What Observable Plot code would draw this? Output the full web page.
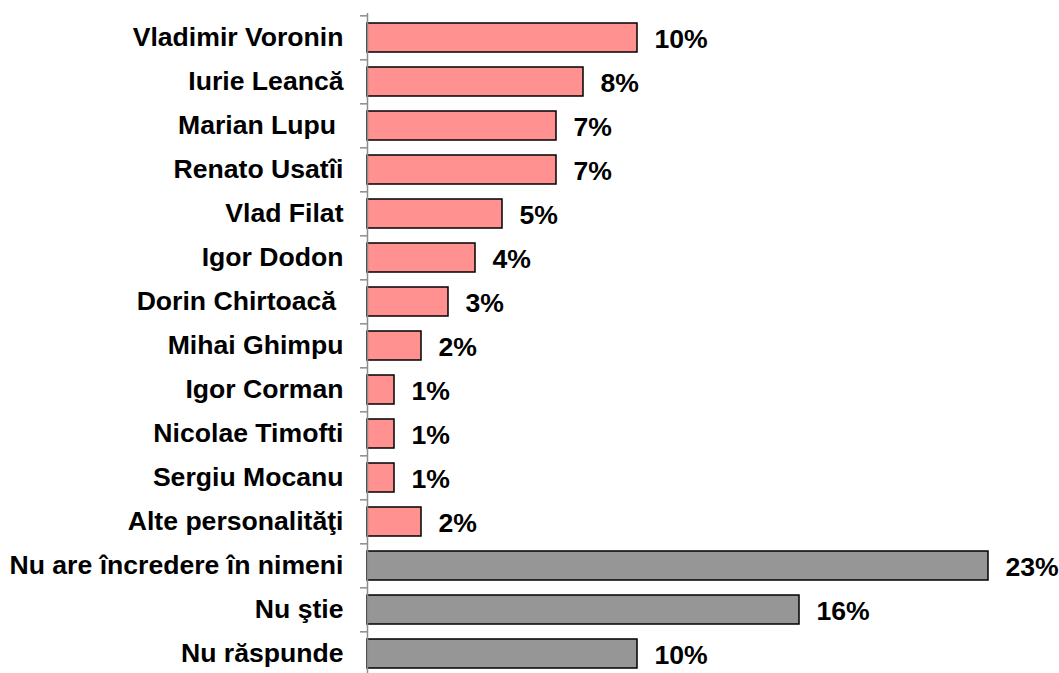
<!DOCTYPE html>
<html>
<head>
<meta charset="utf-8">
<script src="https://cdn.jsdelivr.net/npm/d3@7"></script>
<script src="https://cdn.jsdelivr.net/npm/@observablehq/plot@0.6"></script>
<style>
  html, body { margin: 0; padding: 0; background: #fff; }
</style>
</head>
<body>
<script>
const categories = [
  "Vladimir Voronin", "Iurie Leancă", "Marian Lupu\u00a0", "Renato Usatîi", "Vlad Filat",
  "Igor Dodon", "Dorin Chirtoacă\u00a0", "Mihai Ghimpu", "Igor Corman", "Nicolae Timofti",
  "Sergiu Mocanu", "Alte personalităţi", "Nu are încredere în nimeni", "Nu ştie", "Nu răspunde"
];
const values = [10, 8, 7, 7, 5, 4, 3, 2, 1, 1, 1, 2, 23, 16, 10];
const kinds = [
  "persoană", "persoană", "persoană", "persoană", "persoană", "persoană", "persoană", "persoană",
  "persoană", "persoană", "persoană", "persoană", "altele", "altele", "altele"
];

const data = categories.map((c, i) => ({name: c, value: values[i], kind: kinds[i]}));

const width = 1059, height = 673;
const yTop = 13, yBottom = 678.4;
const step = (yBottom - yTop) / categories.length;
const fs = 26.6;

const chart = Plot.plot({
  width, height,
  marginTop: yTop, marginBottom: 0, marginLeft: 367, marginRight: 0,
  style: {fontFamily: "'Liberation Sans', Arial, sans-serif", fontSize: fs + "px", fontWeight: "bold", color: "#000", background: "#fff"},
  x: {domain: [0, 23], range: [367, 988], axis: null},
  y: {domain: categories, range: [yTop, yBottom], paddingInner: 0.346, paddingOuter: 0.173, axis: null},
  color: {domain: ["persoană", "altele"], range: ["#FF9191", "#969696"]},
  marks: [
    Plot.barX(data, {x: "value", y: "name", fill: "kind", stroke: "#000", strokeWidth: 1.5}),
    Plot.ruleX([0], {stroke: "#8c8c8c", strokeWidth: 1.5}),
    Plot.axisY({label: null, tickSize: 7, tickFormat: () => "", dy: -step / 2, stroke: "#8c8c8c", strokeWidth: 1.5}),
    Plot.axisY({label: null, tickSize: 0, tickPadding: 24, fontSize: fs, fontWeight: "bold", fill: "#000", dy: -1}),
    Plot.text(data, {x: "value", y: "name", text: d => d.value + "%", textAnchor: "start", dx: 17, dy: 1, fontSize: fs, fontWeight: "bold", fill: "#000"})
  ]
});
document.body.appendChild(chart);
</script>
</body>
</html>
